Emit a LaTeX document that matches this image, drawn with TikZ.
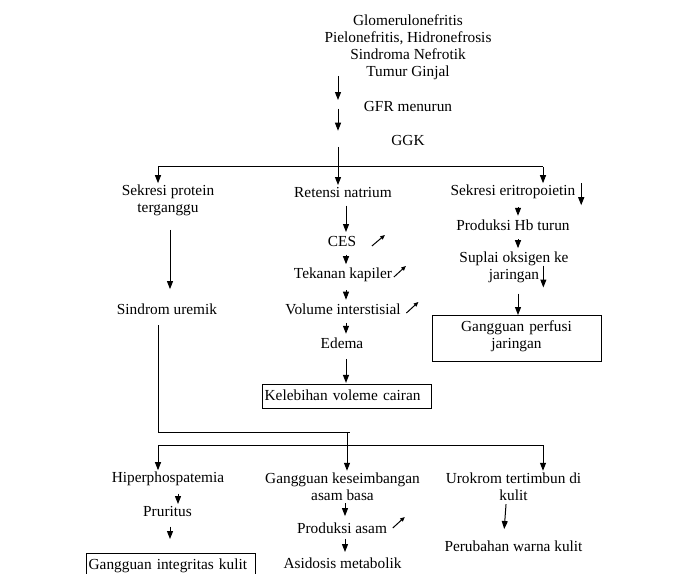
\documentclass[tikz,border=0pt]{standalone}
\usepackage{fontspec}
\setmainfont{Liberation Serif}
\usetikzlibrary{arrows.meta,positioning,calc}

\begin{document}
\begin{tikzpicture}[x=0.75pt, y=-0.75pt, line width=0.75pt,
  font=\fontsize{11.5}{12.75}\selectfont,
  >={Triangle[length=6pt,width=4.5pt]},
  lbl/.style={align=center,inner sep=1pt},
  kotak/.style={draw,inner sep=2pt,text width=122.75pt,text height=10pt,text depth=4pt,anchor=north},
  kotak2/.style={draw,inner sep=2pt,text width=122.75pt,text height=10pt,text depth=20.5pt,anchor=north},
  panah/.style={->,shorten <=5pt,shorten >=1.5pt},
  naik/.style={->,>={Triangle[length=3.5pt,width=3pt]}}]
\useasboundingbox (0,0) rectangle (692,574);
% --- penyebab sampai GGK ---
\node[lbl] (sebab) at (408,47.5) {Glomerulonefritis\\Pielonefritis, Hidronefrosis\\Sindroma Nefrotik\\Tumur Ginjal};
\node[lbl] (gfr) at (408,107) {GFR menurun};
\node[lbl] (ggk) at (408,140) {GGK};
\coordinate (tr) at (338,167);
\coordinate (c1) at (158,167);
\coordinate (c3) at (543,167);
\draw[->,shorten <=-4.5pt] (sebab.south -| tr) -- (gfr.north -| tr);
\draw[->,shorten <=-4pt,shorten >=1.7pt] (gfr.south -| tr) -- (ggk.north -| tr);
% --- tiga cabang ---
\node[lbl] (sekp) at (168,200.5) {Sekresi protein\\terganggu};
\node[lbl] (ret) at (343,192) {Retensi natrium};
\node[lbl] (eri) at (513,192) {Sekresi eritropoietin};
\draw (c1) -- (c3);
\draw[->] (ggk.south -| tr) -- (ret.north -| tr);
\draw[->] (c1) -- (c1 |- sekp.north);
\draw[->] (c3) -- (c3 |- eri.north);
% kiri
\coordinate (l1) at (170,0);
\node[lbl] (sindrom) at (167,309) {Sindrom uremik};
\draw[->,shorten <=9pt,shorten >=9.5pt] (sekp.south -| l1) -- (sindrom.north -| l1);
% tengah
\coordinate (m1) at (346,0);
\node[lbl] (ces) at (342,241) {CES};
\node[lbl] (kap) at (343,275) {Tekanan kapiler};
\node[lbl] (vol) at (343,309) {Volume interstisial};
\node[lbl] (ede) at (342,343) {Edema};
\node[kotak,align=left] (kel) at (346.5,384) {Kelebihan voleme cairan};
\draw[panah] (ret.south -| m1) -- (ces.north -| m1);
\draw[panah] (ces.south -| m1) -- (kap.north -| m1);
\draw[panah] (kap.south -| m1) -- (vol.north -| m1);
\draw[panah] (vol.south -| m1) -- (ede.north -| m1);
\draw[panah,shorten <=6.5pt,shorten >=0.8pt] (ede.south -| m1) -- (kel.north -| m1);
\draw[naik] ([shift={(14,5)}]ces.east) -- ++(13,-11);
\draw[naik] ([shift={(0,2)}]kap.east) -- ++(12,-11);
\draw[naik] ([shift={(4,4)}]vol.east) -- ++(12,-11);
% kanan
\coordinate (r1) at (518,0);
\node[lbl] (hb) at (513,225) {Produksi Hb turun};
\node[lbl] (sup) at (514,267.5) {Suplai oksigen ke\\jaringan};
\node[kotak2,align=center] (perf) at (516.5,315) {Gangguan perfusi\\jaringan};
\draw[->] ([xshift=3]eri.north east) -- ++(0,22);
\draw[panah] (eri.south -| r1) -- (hb.north -| r1);
\draw[panah] (hb.south -| r1) -- (sup.north -| r1);
\draw[panah,shorten <=6.6pt,shorten >=0pt] (sup.south -| r1) -- (perf.north -| r1);
\draw[->] ([shift={(-27,-2)}]sup.east) -- ++(0,22);
% --- sambungan ke bawah ---
\coordinate (j1) at (158,432);
\coordinate (j2) at (350,432);
\coordinate (j3) at (347,432);
\coordinate (b1) at (158,445);
\coordinate (b3) at (543,445);
\node[lbl] (hip) at (168,479) {Hiperphospatemia};
\node[lbl] (gkab) at (342.5,486.5) {Gangguan keseimbangan\\asam basa};
\node[lbl] (uro) at (513.5,486.5) {Urokrom tertimbun di\\kulit};
\draw (sindrom.south -| j1) ++(0,9) -- (j1) -- (j2);
\draw (b1) -- (b3);
\draw[->] (j3) -- (j3 |- gkab.north);
\draw[->] (b1) -- (b1 |- hip.north);
\draw[->] (b3) -- (b3 |- uro.north);
% kiri bawah
\coordinate (l2) at (178,0);
\node[lbl] (pru) at (167.5,511) {Pruritus};
\node[kotak,align=left] (kul) at (170.5,553) {Gangguan integritas kulit};
\draw[panah,shorten <=4.3pt,shorten >=0pt] (hip.south -| l2) -- (pru.north -| l2);
\draw[panah,shorten <=6.5pt,shorten >=10.5pt] (pru.south -| l1) -- (kul.north -| l1);
% tengah bawah
\coordinate (m2) at (345,0);
\node[lbl] (pas) at (342,528) {Produksi asam};
\node[lbl] (asi) at (342.5,563) {Asidosis metabolik};
\draw[panah,shorten <=0.6pt,shorten >=3.5pt] (gkab.south -| m2) -- (pas.north -| m2);
\draw[panah,shorten <=2.8pt,shorten >=2.8pt] (pas.south -| m2) -- (asi.north -| m2);
\draw[naik] ([shift={(4,0)}]pas.east) -- ++(12,-11);
% kanan bawah
\node[lbl] (warna) at (513.5,546) {Perubahan warna kulit};
\draw[->,shorten <=1.5pt,shorten >=7.3pt] ([xshift=-5.5]uro.south) -- ([xshift=-7.5]warna.north);
\end{tikzpicture}
\end{document}
